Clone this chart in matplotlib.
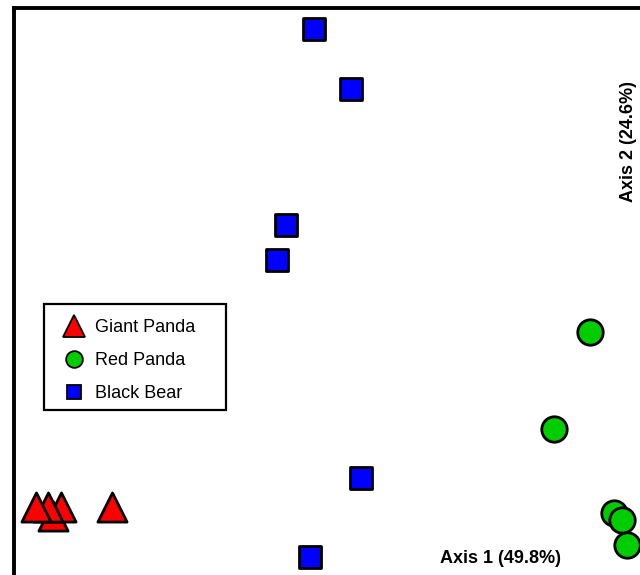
import matplotlib
matplotlib.use("Agg")
import matplotlib.pyplot as plt
from matplotlib.lines import Line2D
from matplotlib.patches import Rectangle

plt.rcParams['font.family'] = ['Liberation Sans', 'DejaVu Sans']

# PCoA coordinates (Axis 1, Axis 2)
groups = ["Giant Panda", "Red Panda", "Black Bear"]
giant_x = [-0.334, -0.324, -0.340, -0.355, -0.260]
giant_y = [-0.283, -0.271, -0.271, -0.271, -0.271]
red_x = [0.3375, 0.292, 0.3675, 0.3775, 0.384]
red_y = [-0.053, -0.174, -0.279, -0.288, -0.319]
bear_x = [-0.007, 0.039, -0.043, -0.054, 0.051, -0.013]
bear_y = [0.326, 0.251, 0.081, 0.037, -0.235, -0.334]
axis_labels = ["Axis 1 (49.8%)", "Axis 2 (24.6%)"]

W, H = 640, 575
fig = plt.figure(figsize=(W / 100, H / 100), dpi=100)

# axes extends past the right/bottom edges of the (cropped) picture
left_px, top_px, right_px, bottom_px = 13.8, 8.2, 700, 640
ax = fig.add_axes([left_px / W, 1 - bottom_px / H,
                   (right_px - left_px) / W, (bottom_px - top_px) / H])
ax.set_xlim(-0.38275, 0.475)
ax.set_ylim(-0.4375, 0.35225)
ax.set_xticks([])
ax.set_yticks([])
for s in ax.spines.values():
    s.set_linewidth(2.8)
    s.set_color('black')

ew = 2.0
ax.scatter(giant_x, giant_y, marker='^', s=21 ** 2, c='#ff0000',
           edgecolors='black', linewidths=ew, zorder=3)
ax.scatter(red_x, red_y, marker='o', s=18.3 ** 2, c='#00cc00',
           edgecolors='black', linewidths=ew, zorder=3)
ax.scatter(bear_x, bear_y, marker='s', s=16.2 ** 2, c='#0000ff',
           edgecolors='black', linewidths=ew, zorder=3)

# legend
handles = [
    Line2D([], [], ls='none', marker='^', markersize=15.5, markerfacecolor='#ff0000',
           markeredgecolor='black', markeredgewidth=1.3),
    Line2D([], [], ls='none', marker='o', markersize=12, markerfacecolor='#00cc00',
           markeredgecolor='black', markeredgewidth=1.3),
    Line2D([], [], ls='none', marker='s', markersize=10.5, markerfacecolor='#0000ff',
           markeredgecolor='black', markeredgewidth=1.3),
]
fig.legend(handles, groups, loc='upper left',
           bbox_to_anchor=(65 / W, 1 - 319.5 / H), bbox_transform=fig.transFigure,
           frameon=False, fontsize=13, borderpad=0, borderaxespad=0,
           handlelength=1.0, handletextpad=0.65, labelspacing=0.87)
fig.patches.append(Rectangle((44 / W, 1 - 410 / H), (226 - 44) / W, (410 - 304) / H,
                             transform=fig.transFigure, fill=False,
                             edgecolor='black', linewidth=1.6, zorder=5))

fig.text(501 / W, 1 - 563 / H, axis_labels[0], ha='center', va='baseline',
         fontsize=13, fontweight='bold')
fig.text(633 / W, 1 - 142 / H, axis_labels[1], ha='center', va='baseline',
         rotation=90, rotation_mode='anchor', fontsize=13, fontweight='bold')

fig.savefig("out.png", dpi=100)
